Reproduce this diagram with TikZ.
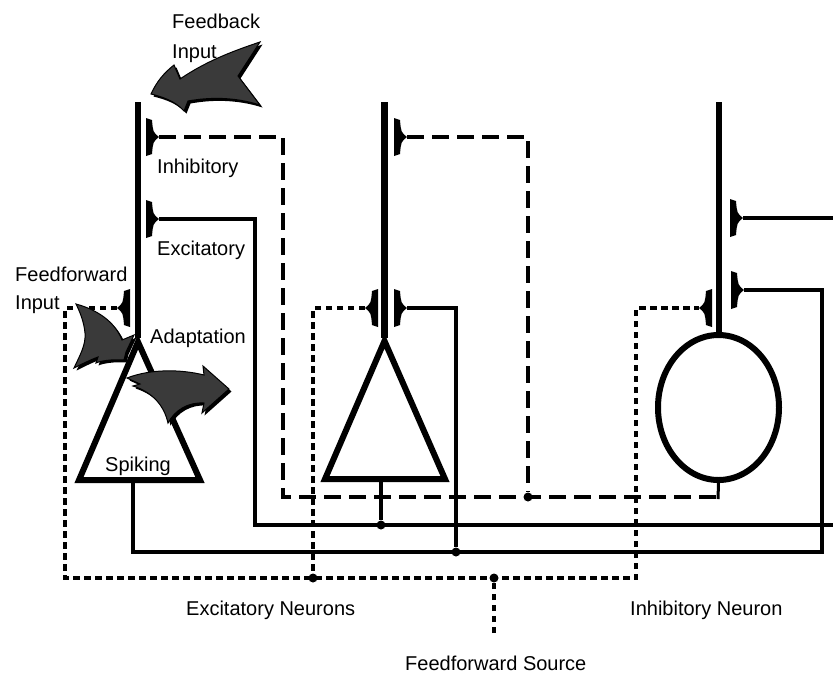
\documentclass[tikz,border=0pt]{standalone}
\usepackage{fontspec}
\setmainfont{Liberation Sans}
\usetikzlibrary{shapes.geometric}
\definecolor{arrgray}{HTML}{3A3A3A}
\tikzset{
  synR/.pic={\fill (0,-19) -- (6,-17) .. controls (7,-5) .. (13,0) .. controls (7,5) .. (6,17) -- (0,19) -- cycle;},
  synL/.pic={\fill (0,-19) -- (-6,-17) .. controls (-7,-5) .. (-13,0) .. controls (-7,5) .. (-6,17) -- (0,19) -- cycle;},
  dend/.style={line width=6.5pt},
  body/.style={line width=6pt, line join=miter, fill=white},
  exc/.style={line width=4pt},
  inh/.style={line width=4.5pt, dash pattern=on 17pt off 8pt},
  ffl/.style={line width=3.2pt, dash pattern=on 6.5pt off 4.5pt},
  lbl/.style={anchor=base west, inner sep=0pt, font=\fontsize{20}{24}\selectfont},
  jdot/.style={circle, fill, inner sep=0pt, minimum size=9pt},
  bigarrow/.style={fill=arrgray, draw=black, line width=1pt, line join=miter},
  shadowarrow/.style={fill=black, shift={(2.5,2.5)}}
}
\begin{document}
\begin{tikzpicture}[x=1pt,y=-1pt]
\useasboundingbox (0,0) rectangle (833,673);

% synapse apex coordinates
\coordinate (n1inh) at (159,137);
\coordinate (n1exc) at (159,219);
\coordinate (n1ff)  at (117,308);
\coordinate (n2inh) at (407,137);
\coordinate (n2exc) at (407,308);
\coordinate (n2ff)  at (365,308);
\coordinate (n3up)  at (743,218);
\coordinate (n3lo)  at (744,290);
\coordinate (n3ff)  at (699,308);
\coordinate (t1bot) at (133,480);
\coordinate (t2bot) at (381,479);
\coordinate (src)   at (494,633);
\coordinate (redge1) at (833,525);
\coordinate (redge2) at (833,218);

% junction dots
\node[jdot] (j1) at (528,497) {};
\node[jdot] (j2) at (381,525) {};
\node[jdot] (j3) at (456,552) {};
\node[jdot] (j4) at (313,578) {};
\node[jdot] (j5) at (494,578) {};

% inhibitory neuron body
\node[draw, ellipse, line width=6pt, fill=white, minimum width=121pt, minimum height=145pt, inner sep=0pt] (n3) at (718.5,407.5) {};

% inhibitory (dashed) connections
\draw[inh] (n1inh) -- (283,137) -- (283,497) -- (718,497);
\draw[line width=3pt] (n3.south) -- (718,499);
\draw[inh] (n2inh) -- (528,137) -- (j1);

% excitatory (solid) connections
\draw[exc] (n1exc) -- (255,219) -- (255,525) -- (redge1);
\draw[exc] (t2bot) -- (j2);
\draw[exc] (t1bot) -- (133,552) -- (822,552) -- (822,290) -- (n3lo);
\draw[exc] (n2exc) -- (456,308) -- (j3);
\draw[exc] (n3up) -- (redge2);

% feedforward (dotted) connections
\draw[ffl] (n1ff) -- (65,308) -- (65,578) -- (636,578) -- (636,308) -- (n3ff);
\draw[ffl] (n2ff) -- (313,308) -- (j4);
\draw[ffl] (src) -- (j5);

% dendrites
\draw[dend] (138,102) -- (138,338);
\draw[dend] (384.5,102) -- (384.5,338);
\draw[dend] (719,102) -- (719,336);

% triangle bodies
\draw[body] (138,342) -- (79,480) -- (200,480) -- cycle;
\draw[body] (384.5,341) -- (325,479) -- (445,479) -- cycle;

% synapses
\pic at (146,137) {synR};
\pic at (146,219) {synR};
\pic at (130,308) {synL};
\pic at (394,137) {synR};
\pic at (394,308) {synR};
\pic at (378,308) {synL};
\pic at (730,218) {synR};
\pic at (731,290) {synR};
\pic at (712,308) {synL};

% feedback input arrow
\path[shadowarrow] (151,94) .. controls (157,81) and (164,73) .. (174,65) -- (180,79) .. controls (205,62) and (230,52) .. (260,42) -- (238,76) -- (260,105) .. controls (235,97) and (210,97) .. (188,101) -- (184,111) .. controls (175,101) and (163,97) .. (151,94) -- cycle;
\path[bigarrow] (151,94) .. controls (157,81) and (164,73) .. (174,65) -- (180,79) .. controls (205,62) and (230,52) .. (260,42) -- (238,76) -- (260,105) .. controls (235,97) and (210,97) .. (188,101) -- (184,111) .. controls (175,101) and (163,97) .. (151,94) -- cycle;

% feedforward input arrow
\path[shadowarrow] (76,304) .. controls (98,310) and (115,322) .. (122,340) -- (134,335) -- (126,352) -- (124,360) .. controls (112,359) and (100,361) .. (96,363) -- (98,357) .. controls (90,360) and (82,364) .. (74,368) .. controls (80,355) and (86,345) .. (85,333) .. controls (84,322) and (80,312) .. (76,304) -- cycle;
\path[bigarrow] (76,304) .. controls (98,310) and (115,322) .. (122,340) -- (134,335) -- (126,352) -- (124,360) .. controls (112,359) and (100,361) .. (96,363) -- (98,357) .. controls (90,360) and (82,364) .. (74,368) .. controls (80,355) and (86,345) .. (85,333) .. controls (84,322) and (80,312) .. (76,304) -- cycle;

% adaptation arrow
\path[shadowarrow] (127,378) .. controls (150,369) and (180,369) .. (204,375) -- (203,366) -- (229,389) -- (202,413) -- (204,403) .. controls (188,402) and (175,410) .. (168,423) .. controls (164,405) and (152,392) .. (133,386) -- (140,384) -- cycle;
\path[bigarrow] (127,378) .. controls (150,369) and (180,369) .. (204,375) -- (203,366) -- (229,389) -- (202,413) -- (204,403) .. controls (188,402) and (175,410) .. (168,423) .. controls (164,405) and (152,392) .. (133,386) -- (140,384) -- cycle;

% labels
\node[lbl] (fb1) at (172,28) {Feedback};
\node[lbl] (fb2) at (172,58) {Input};
\node[lbl] (tinh) at (157,173) {Inhibitory};
\node[lbl] (texc) at (157,255) {Excitatory};
\node[lbl] (ff1) at (15,281) {Feedforward};
\node[lbl] (ff2) at (15,309) {Input};
\node[lbl] (tad) at (150,343) {Adaptation};
\node[lbl] (tsp) at (105,471) {Spiking};
\node[lbl] (ten) at (186,615) {Excitatory Neurons};
\node[lbl] (tin) at (630,615) {Inhibitory Neuron};
\node[lbl] (tfs) at (405,670) {Feedforward Source};
\end{tikzpicture}
\end{document}
